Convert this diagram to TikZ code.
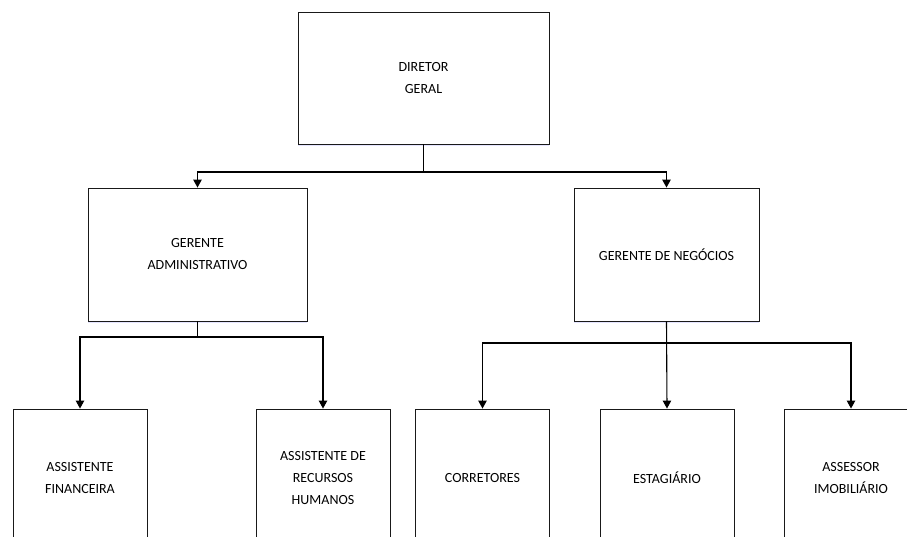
\documentclass[tikz,border=0pt]{standalone}
\usepackage{fontspec}
\setmainfont{Carlito}
\usetikzlibrary{arrows.meta,shadows}
\begin{document}
\begin{tikzpicture}[x=1pt,y=-1pt,
  box/.style={draw=black!90,line width=0.9pt,fill=white,align=center,inner sep=0pt,
    font=\fontsize{14}{22}\selectfont,text=black,
    drop shadow={shadow xshift=0.4pt,shadow yshift=-1.6pt,fill=blue!30,opacity=0.35}},
  conn/.style={draw=black,line width=1.1pt},
  arr/.style={conn,-{Triangle[length=8pt,width=8.5pt]}}]
\useasboundingbox (0,0) rectangle (907,537);
\clip (0,0) rectangle (907,537);
\node[box,minimum width=251pt,minimum height=132pt] (dir) at (423.5,78) {DIRETOR\\GERAL};
\node[box,minimum width=219pt,minimum height=133pt] (gadm) at (197.5,254.5) {GERENTE\\ADMINISTRATIVO};
\node[box,minimum width=185pt,minimum height=133pt] (gneg) at (666.5,254.5) {GERENTE DE NEGÓCIOS};
\node[box,minimum width=134pt,minimum height=138pt] (af) at (80,478) {ASSISTENTE\\FINANCEIRA};
\node[box,minimum width=134pt,minimum height=138pt] (arh) at (323,478) {ASSISTENTE DE\\RECURSOS\\HUMANOS};
\node[box,minimum width=134pt,minimum height=138pt] (cor) at (482.5,478) {CORRETORES};
\node[box,minimum width=134pt,minimum height=138pt] (est) at (667,478) {ESTAGIÁRIO};
\node[box,minimum width=134pt,minimum height=138pt] (ass) at (851,478) {ASSESSOR\\IMOBILIÁRIO};
\coordinate (b1) at (423.5,172);
\coordinate (b2) at (197.5,337);
\coordinate (b3) at (666.5,343);
\draw[conn] (dir.south) -- (b1);
\draw[arr] (b1) -| (gadm.north);
\draw[arr] (b1) -| (gneg.north);
\draw[conn] (gadm.south) -- (b2);
\draw[arr] (b2) -| (af.north);
\draw[arr] (b2) -| (arh.north);
\draw[arr] (gneg.south) -- (est.north);
\draw[arr] (b3) -| (cor.north);
\draw[arr] (b3) -| (ass.north);
\end{tikzpicture}
\end{document}
